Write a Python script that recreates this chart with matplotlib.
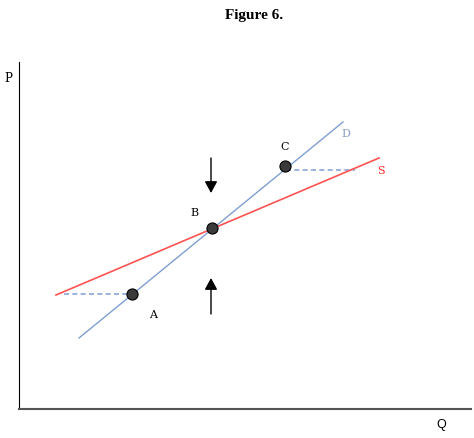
import matplotlib.pyplot as plt

# quantity / price coordinates (origin at the axes corner)
demand_q = [60, 324]
demand_p = [71, 287]
supply_q = [37, 360]
supply_p = [114, 251]

point_names = ["A", "B", "C"]
point_q = [113, 193, 266]
point_p = [115, 181, 243]

# horizontal gaps at A and C
gap_a_q = [45, 113]
gap_a_p = [115, 115]
gap_c_q = [267, 336]
gap_c_p = [239, 239]

W, H = 474, 439
fig = plt.figure(figsize=(W / 100, H / 100), dpi=100)
ox, oy = 19, 410
ax = fig.add_axes([ox / W, (H - oy) / H, (471 - ox) / W, (oy - 63) / H])
ax.set_xlim(0, 471 - ox)
ax.set_ylim(0, oy - 63)
ax.set_xticks([])
ax.set_yticks([])
ax.spines["top"].set_visible(False)
ax.spines["right"].set_visible(False)
ax.spines["left"].set_linewidth(0.8)
ax.spines["left"].set_color("black")
ax.spines["bottom"].set_linewidth(1.5)
ax.spines["bottom"].set_color("#555555")

ax.plot(gap_a_q, gap_a_p, color="#8aa6d8", lw=1.2, ls=(0, (3, 2)))
ax.plot(gap_c_q, gap_c_p, color="#8aa6d8", lw=1.2, ls=(0, (3, 2)))
ax.plot(demand_q, demand_p, color="#7f9fd2", lw=1.0)
ax.plot(supply_q, supply_p, color="#ff5252", lw=1.2)
ax.plot(point_q, point_p, "o", ms=8, mfc="#3a3a3a", mec="black", mew=0.8)

lab = "DejaVu Serif"
ax.text(point_q[0] + 21, point_p[0] - 20, point_names[0], fontsize=8,
        family=lab, ha="center", va="center")
ax.text(point_q[1] - 18, point_p[1] + 16, point_names[1], fontsize=8,
        family=lab, ha="center", va="center")
ax.text(point_q[2], point_p[2] + 20, point_names[2], fontsize=8,
        family=lab, ha="center", va="center")
ax.text(demand_q[1] + 3, demand_p[1] - 11, "D", fontsize=8, family=lab,
        color="#8a9cc4", ha="center", va="center")
ax.text(supply_q[1] + 2, supply_p[1] - 12, "S", fontsize=8, family=lab,
        color="#ff2020", ha="center", va="center")

# pressure arrows towards equilibrium
arrow = dict(arrowstyle="-|>,head_width=0.38,head_length=0.7",
             color="black", lw=1.0, shrinkA=0, shrinkB=0)
ax.annotate("", xy=(192, 216), xytext=(192, 251), arrowprops=arrow)
ax.annotate("", xy=(192, 131), xytext=(192, 95), arrowprops=arrow)

fig.text(8 / W, 1 - 78 / H, "P", fontsize=8.5, family=lab, ha="center", va="center")
fig.text(441 / W, 1 - 425 / H, "Q", fontsize=9, family="Liberation Sans",
         ha="center", va="center")
fig.text(254 / W, 1 - 16 / H, "Figure 6.", fontsize=11, family="Liberation Serif",
         weight="bold", ha="center", va="center")

plt.savefig("out.png", dpi=100)
